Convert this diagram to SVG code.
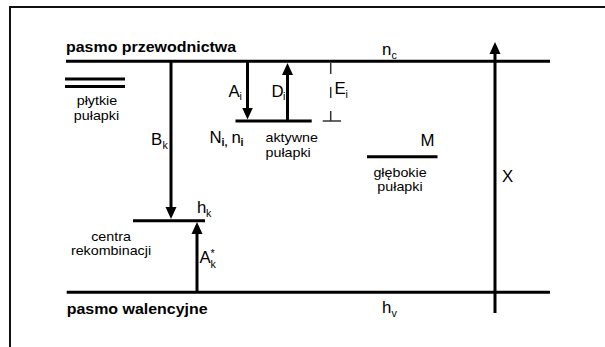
<svg xmlns="http://www.w3.org/2000/svg" width="605" height="347" viewBox="0 0 605 347">
<style>
.ln{stroke:#000;stroke-width:3;fill:none}
.fr{stroke:#111;stroke-width:2;fill:none}
.ar{stroke:#000;stroke-width:3;fill:none;marker-end:url(#ah)}
.dash{stroke:#333;stroke-width:1.5;fill:none}
text{font-family:"Liberation Sans",Arial,sans-serif;fill:#000}
.b{font-size:14.5px;font-weight:bold}
.t{font-size:13px}
.L{font-size:16px}
.s{font-size:10px}
.sb{font-size:10px;font-weight:bold}
.m{text-anchor:middle}
</style>
<defs>
<marker id="ah" markerUnits="userSpaceOnUse" markerWidth="12" markerHeight="12" viewBox="0 0 12 12" refX="8" refY="6" orient="auto">
<path d="M0,0.5 L12,6 L0,11.5 z" fill="#000"/>
</marker>
</defs>
<g id="frame">
<path class="fr" d="M10,347 V7 H605"/>
</g>
<g id="conduction-band">
<line class="ln" x1="66" y1="61.3" x2="550" y2="61.3"/>
<text class="b" transform="translate(66,51.5) scale(1.1,1)">pasmo przewodnictwa</text>
<text class="L" transform="translate(382,55) scale(1.05,1)">n</text>
<text class="s" transform="translate(391.5,58.5) scale(1.07,1)">c</text>
</g>
<g id="valence-band">
<line class="ln" x1="66.7" y1="292.3" x2="550" y2="292.3"/>
<text class="b" transform="translate(66.7,314) scale(1.1,1)">pasmo walencyjne</text>
<text class="L" transform="translate(382,313) scale(1.05,1)">h</text>
<text class="s" transform="translate(391.5,316.5) scale(1.07,1)">v</text>
</g>
<g id="shallow-traps">
<line class="ln" x1="65" y1="79" x2="125" y2="79"/>
<line class="ln" x1="65" y1="86.6" x2="125" y2="86.6"/>
<text class="t m" transform="translate(97,104.5) scale(1.1,1)">płytkie</text>
<text class="t m" transform="translate(96.5,119.5) scale(1.1,1)">pułapki</text>
</g>
<g id="active-traps">
<line class="ln" x1="235.5" y1="121" x2="311.7" y2="121"/>
<text class="L" transform="translate(209.5,143.3) scale(1.05,1)">N</text>
<text class="sb" transform="translate(221.6,145.5) scale(1.07,1)">i,</text>
<text class="L" transform="translate(231.5,143.3) scale(1.05,1)">n</text>
<text class="sb" transform="translate(240.5,145.5) scale(1.07,1)">i</text>
<text class="t" transform="translate(265.5,142) scale(1.1,1)">aktywne</text>
<text class="t" transform="translate(265.5,156.5) scale(1.1,1)">pułapki</text>
</g>
<g id="deep-traps">
<line class="ln" x1="367" y1="156.7" x2="437.5" y2="156.7"/>
<text class="L" transform="translate(420.5,146) scale(1.05,1)">M</text>
<text class="t m" transform="translate(400,176.7) scale(1.1,1)">głębokie</text>
<text class="t m" transform="translate(400,191) scale(1.1,1)">pułapki</text>
</g>
<g id="recombination-centres">
<line class="ln" x1="133" y1="220.7" x2="205" y2="220.7"/>
<text class="L" transform="translate(197,213.3) scale(1.05,1)">h</text>
<text class="s" transform="translate(206,216.5) scale(1.07,1)">k</text>
<text class="t m" transform="translate(111,240.5) scale(1.1,1)">centra</text>
<text class="t m" transform="translate(111,255) scale(1.1,1)">rekombinacji</text>
</g>
<g id="energy-Ei">
<line class="dash" x1="330.7" y1="63" x2="330.7" y2="121" stroke-dasharray="11 13"/>
<line class="dash" x1="322.7" y1="121" x2="341" y2="121"/>
<text class="L" transform="translate(334.5,94.3) scale(1.05,1)">E</text>
<text class="s" transform="translate(345.5,98) scale(1.07,1)">i</text>
</g>
<g id="connectors">
<line class="ar" x1="171" y1="61" x2="171" y2="215"/>
<line class="ar" x1="247.5" y1="61" x2="247.5" y2="115.5"/>
<line class="ar" x1="287.5" y1="121" x2="287.5" y2="67"/>
<line class="ar" x1="197" y1="292" x2="197" y2="226"/>
<line class="ar" x1="495" y1="313" x2="495" y2="46"/>
</g>
<g id="labels">
<text class="L" transform="translate(151,145) scale(1.05,1)">B</text>
<text class="s" transform="translate(162.5,148.5) scale(1.07,1)">k</text>
<text class="L" transform="translate(228.5,96.7) scale(1.05,1)">A</text>
<text class="s" transform="translate(239.5,99.5) scale(1.07,1)">i</text>
<text class="L" transform="translate(271.5,96.7) scale(1.05,1)">D</text>
<text class="s" transform="translate(283,99.5) scale(1.07,1)">i</text>
<text class="L" transform="translate(199.5,262.5) scale(1.05,1)">A</text>
<text class="s" transform="translate(210.5,256.5) scale(1.07,1)">*</text>
<text class="s" transform="translate(210.5,268) scale(1.07,1)">k</text>
<text class="L" transform="translate(502,181.7) scale(1.05,1)">X</text>
</g>
</svg>
